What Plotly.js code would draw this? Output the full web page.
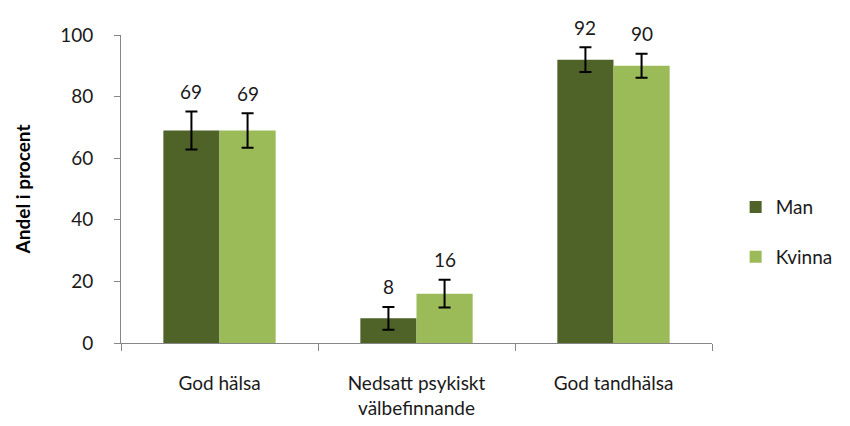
<!DOCTYPE html>
<html>
<head>
<meta charset="utf-8">
<script src="https://cdn.plot.ly/plotly-3.0.1.min.js"></script>
<style>
  html, body { margin: 0; padding: 0; background: #fff; }
  #chart { width: 850px; height: 426px; }
</style>
</head>
<body>
<div id="chart"></div>
<script>
// Andel i procent per kön, med konfidensintervall
const kategorier = ['God hälsa', 'Nedsatt psykiskt<br>välbefinnande', 'God tandhälsa'];
const man = [69, 8, 92];
const kvinna = [69, 16, 90];
const felMan = [6.2, 3.7, 4];
const felKvinna = [5.6, 4.5, 3.9];

const C = { man: '#4F6228', kvinna: '#9BBB59', axel: '#868686', text: '#1a1a1a' };
const font = 'Lato, "Open Sans", sans-serif';

const staplar = [
    {
        type: 'bar', name: 'Man', legendgroup: 'a',
        x: kategorier, y: man,
        marker: { color: C.man, line: { width: 0 } },
        error_y: { type: 'data', array: felMan, visible: true, color: '#000', thickness: 2, width: 6 },
        offsetgroup: 'man',
    },
    {
        type: 'bar', name: 'Kvinna', legendgroup: 'b',
        x: kategorier, y: kvinna,
        marker: { color: C.kvinna, line: { width: 0 } },
        error_y: { type: 'data', array: felKvinna, visible: true, color: '#000', thickness: 2, width: 6 },
        offsetgroup: 'kvinna',
    },
];

// Värdeetiketter ovanför felstaplarna
const etiketter = [];
kategorier.forEach((k, i) => {
    etiketter.push({ x: k, y: man[i] + felMan[i], text: String(man[i]), xshift: -28.5, yshift: 20 });
    etiketter.push({ x: k, y: kvinna[i] + felKvinna[i], text: String(kvinna[i]), xshift: 28.5, yshift: 20 });
});

Plotly.newPlot('chart', staplar, {
    width: 850, height: 426,
    paper_bgcolor: '#fff', plot_bgcolor: '#fff',
    font: { family: font, size: 19, color: C.text },
    barmode: 'group', bargap: 0.43, bargroupgap: 0,
    showlegend: true,
    legend: { x: 1.04, xanchor: 'left', y: 0.36, yanchor: 'middle', tracegroupgap: 22,
              font: { size: 19 }, itemwidth: 30 },
    margin: { l: 121, r: 132, t: 35, b: 83 },
    xaxis: {
        showline: true, linecolor: C.axel, linewidth: 1,
        ticks: 'outside', tickson: 'boundaries', ticklen: 7, tickcolor: C.axel,
        ticklabelstandoff: 23,
        showgrid: false, zeroline: false, fixedrange: true,
    },
    yaxis: {
        range: [0, 100], dtick: 20,
        showline: true, linecolor: C.axel, linewidth: 1,
        ticks: 'outside', ticklen: 6, tickcolor: C.axel,
        ticklabelstandoff: 17,
        showgrid: false, zeroline: false,
        title: { text: '<b>Andel i procent</b>', font: { size: 19, color: '#000' }, standoff: 24 },
    },
    annotations: etiketter.map(a => Object.assign({
        xref: 'x', yref: 'y', showarrow: false,
        font: { size: 19, color: C.text },
    }, a)),
}, { displayModeBar: false, staticPlot: true });
</script>
</body>
</html>
